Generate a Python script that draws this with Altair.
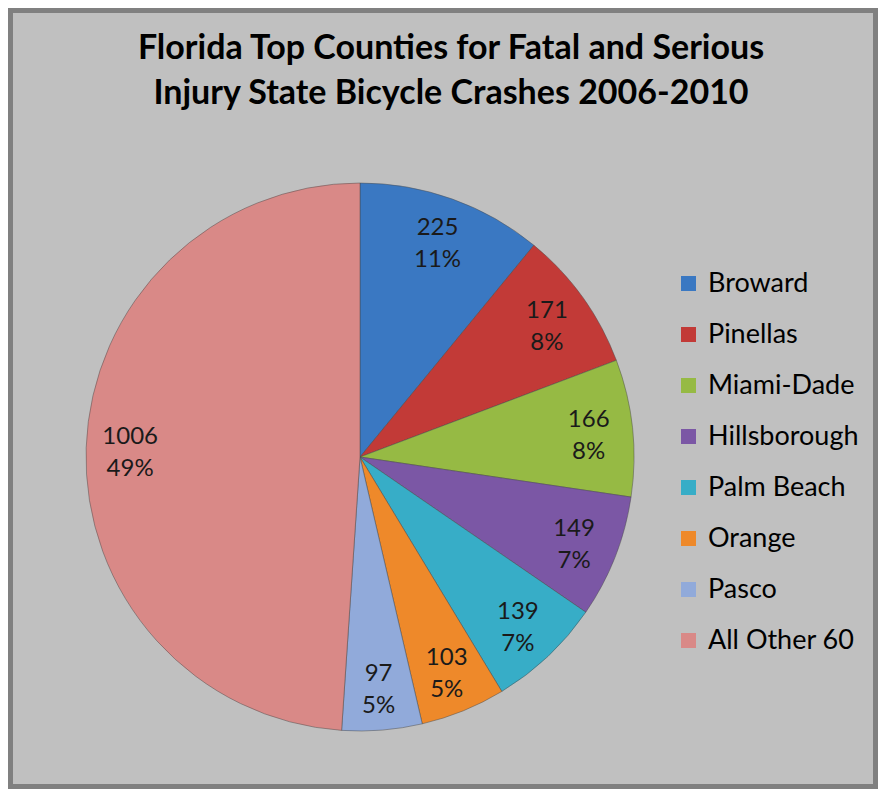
import altair as alt
import pandas as pd

counties = ["Broward", "Pinellas", "Miami-Dade", "Hillsborough", "Palm Beach",
            "Orange", "Pasco", "All Other 60"]
crashes = [225, 171, 166, 149, 139, 103, 97, 1006]
colors = ["#3A78C2", "#C23A37", "#96BA44", "#7B57A5", "#37ADC7",
          "#EE892A", "#91AADA", "#D98987"]
title_lines = ["Florida Top Counties for Fatal and Serious",
               "Injury State Bicycle Crashes 2006-2010"]

total = sum(crashes)
df = pd.DataFrame({
    "county": counties,
    "crashes": crashes,
    "order": list(range(len(counties))),
})
df["label"] = [f"{v}\n{round(v / total * 100)}%" for v in crashes]

W, H = 870, 781
CX, CY, R = 352, 449, 274

color = alt.Color(
    "county:N",
    scale=alt.Scale(domain=counties, range=colors),
    sort=counties,
    legend=alt.Legend(
        orient="none", legendX=667, legendY=262, title=None,
        symbolType="square", symbolSize=225, symbolStrokeWidth=0,
        labelFontSize=27, labelFont="Lato", labelColor="#000000",
        rowPadding=23, labelOffset=6, labelLimit=300, padding=0,
    ),
)

# chart frame (border around the whole chart area)
frame = alt.Chart(pd.DataFrame({"f": [0]})).mark_rect(
    fill="#C0C0C0", stroke="#808080", strokeWidth=10
).encode(
    x=alt.value(0), x2=alt.value(W), y=alt.value(0), y2=alt.value(H)
)

base = alt.Chart(df).encode(
    theta=alt.Theta("crashes:Q", stack=True),
    order=alt.Order("order:Q"),
)

pie = base.mark_arc(
    outerRadius=R, x=CX, y=CY, stroke="#4a4a4a", strokeWidth=0.8, strokeOpacity=0.6
).encode(color=color)

text = base.mark_text(
    radius=230, x=CX, y=CY, dy=-12, lineBreak="\n", fontSize=24, lineHeight=32,
    font="Lato", color="#1a1a1a", baseline="middle", align="center",
).encode(text="label:N")

chart = (frame + pie + text).properties(
    width=W, height=H, autosize="none", padding=0,
    title=alt.TitleParams(
        title_lines, font="Lato", fontSize=34, fontWeight="bold", color="#000000",
        anchor="middle", offset=-108, lineHeight=45, dx=8,
    ),
).configure(
    background="#C0C0C0",
    view=alt.ViewConfig(fill="#C0C0C0", strokeWidth=0),
)

chart.save("out.html", embed_options={"renderer": "svg", "actions": False})
